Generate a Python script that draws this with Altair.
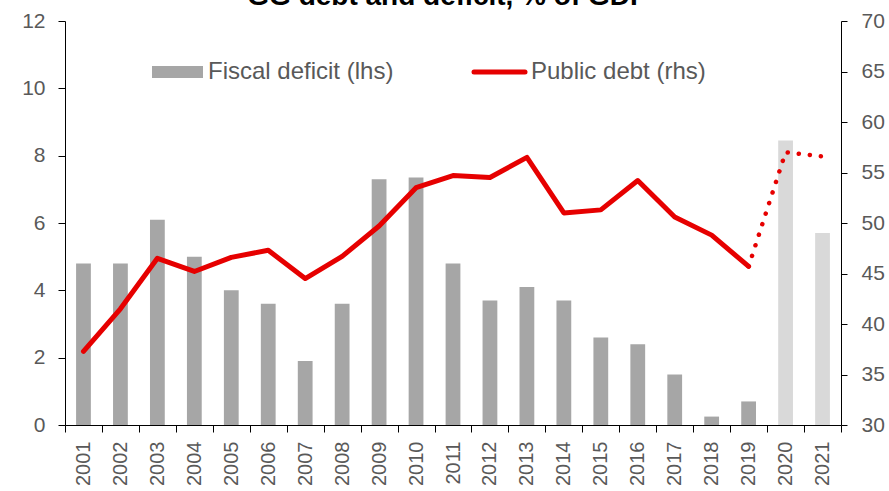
import altair as alt
import pandas as pd

# Fiscal deficit (% of GDP, left axis) and public debt (% of GDP, right axis)
years = [str(y) for y in range(2001, 2022)]
deficit = [4.8, 4.8, 6.1, 5.0, 4.0, 3.6, 1.9, 3.6, 7.3, 7.35, 4.8,
           3.7, 4.1, 3.7, 2.6, 2.4, 1.5, 0.25, 0.7, 8.45, 5.7]
debt = [37.3, 41.5, 46.5, 45.2, 46.6, 47.3, 44.5, 46.7, 49.7, 53.5, 54.7,
        54.5, 56.5, 51.0, 51.3, 54.2, 50.6, 48.8, 45.7, 57.0, 56.6]
forecast_years = ["2020", "2021"]
last_actual = "2019"

title_text = "GG debt and deficit, % of GDP"
legend_labels = ["Fiscal deficit (lhs)", "Public debt (rhs)"]

FONT = "Liberation Sans"
LABEL = "#595959"
RED = "#E60000"

bars_df = pd.DataFrame({
    "year": years,
    "deficit": deficit,
    "kind": ["forecast" if y in forecast_years else "actual" for y in years],
})
idx = years.index(last_actual)
solid_df = pd.DataFrame({"year": years[: idx + 1], "debt": debt[: idx + 1]})
dotted_df = pd.DataFrame({"year": years[idx:], "debt": debt[idx:]})

x_enc = alt.X(
    "year:N",
    sort=years,
    scale=alt.Scale(paddingInner=0, paddingOuter=0),
    axis=alt.Axis(
        title=None, labelAngle=270, tickBand="extent", tickSize=7,
        labelPadding=9, labelFontSize=20, labelColor=LABEL, labelFont=FONT,
        domainColor="#000000", tickColor="#000000", labelOverlap=False,
    ),
)

bars = alt.Chart(bars_df).mark_bar(width=alt.RelativeBandSize(0.4)).encode(
    x=x_enc,
    y=alt.Y(
        "deficit:Q",
        scale=alt.Scale(domain=[0, 12], nice=False, zero=True),
        axis=alt.Axis(
            title=None, orient="left", values=list(range(0, 13, 2)), grid=False,
            tickSize=7, labelPadding=13, labelFontSize=21, labelColor=LABEL,
            labelFont=FONT, domainColor="#000000", tickColor="#000000",
        ),
    ),
    color=alt.Color(
        "kind:N",
        scale=alt.Scale(domain=["actual", "forecast"], range=["#A6A6A6", "#D9D9D9"]),
        legend=None,
    ),
)

debt_scale = alt.Scale(domain=[30, 70], nice=False, zero=False)
right_axis = alt.Axis(
    title=None, orient="right", values=list(range(30, 71, 5)), grid=False,
    tickSize=6, labelPadding=14, labelFontSize=21, labelColor=LABEL,
    labelFont=FONT, domainColor="#000000", tickColor="#000000",
)

solid = alt.Chart(solid_df).mark_line(
    color=RED, strokeWidth=5, strokeCap="round", strokeJoin="round"
).encode(
    x=alt.X("year:N", sort=years),
    y=alt.Y("debt:Q", scale=debt_scale, axis=right_axis),
)

dotted = alt.Chart(dotted_df).mark_line(
    color=RED, strokeWidth=4.5, strokeCap="round", strokeDash=[0.1, 11]
).encode(
    x=alt.X("year:N", sort=years),
    y=alt.Y("debt:Q", scale=debt_scale),
)

debt_lines = alt.layer(solid, dotted)

# Title, partly above the visible canvas
title = alt.Chart(pd.DataFrame({"t": [title_text]})).mark_text(
    font=FONT, fontSize=28, fontWeight="bold", color="#000000",
    align="center", baseline="alphabetic",
).encode(x=alt.value(383), y=alt.value(-16), text="t:N")

# Legend drawn in the plot area
leg_bar_df = pd.DataFrame({"t": [legend_labels[0]]})
leg_line_df = pd.DataFrame({"t": [legend_labels[1]]})

leg_bar_swatch = alt.Chart(leg_bar_df).mark_rect(color="#A6A6A6").encode(
    x=alt.value(87), x2=alt.value(138), y=alt.value(45), y2=alt.value(57)
)
leg_bar_text = alt.Chart(leg_bar_df).mark_text(
    font=FONT, fontSize=24, color=LABEL, align="left", baseline="middle"
).encode(x=alt.value(143), y=alt.value(51), text="t:N")

leg_line_swatch = alt.Chart(leg_line_df).mark_rule(
    color=RED, strokeWidth=5, strokeCap="round"
).encode(x=alt.value(409), x2=alt.value(460), y=alt.value(51))
leg_line_text = alt.Chart(leg_line_df).mark_text(
    font=FONT, fontSize=24, color=LABEL, align="left", baseline="middle"
).encode(x=alt.value(466), y=alt.value(51), text="t:N")

chart = (
    alt.layer(
        bars, debt_lines, title,
        leg_bar_swatch, leg_bar_text, leg_line_swatch, leg_line_text,
    )
    .resolve_scale(y="independent")
    .properties(
        width=776,
        height=404,
        autosize=alt.AutoSizeParams(type="none"),
        padding={"left": 65, "top": 21, "right": 48, "bottom": 66},
        background="white",
    )
    .configure_view(stroke=None)
)

chart.save("out.html", embed_options={"renderer": "svg", "actions": False})
